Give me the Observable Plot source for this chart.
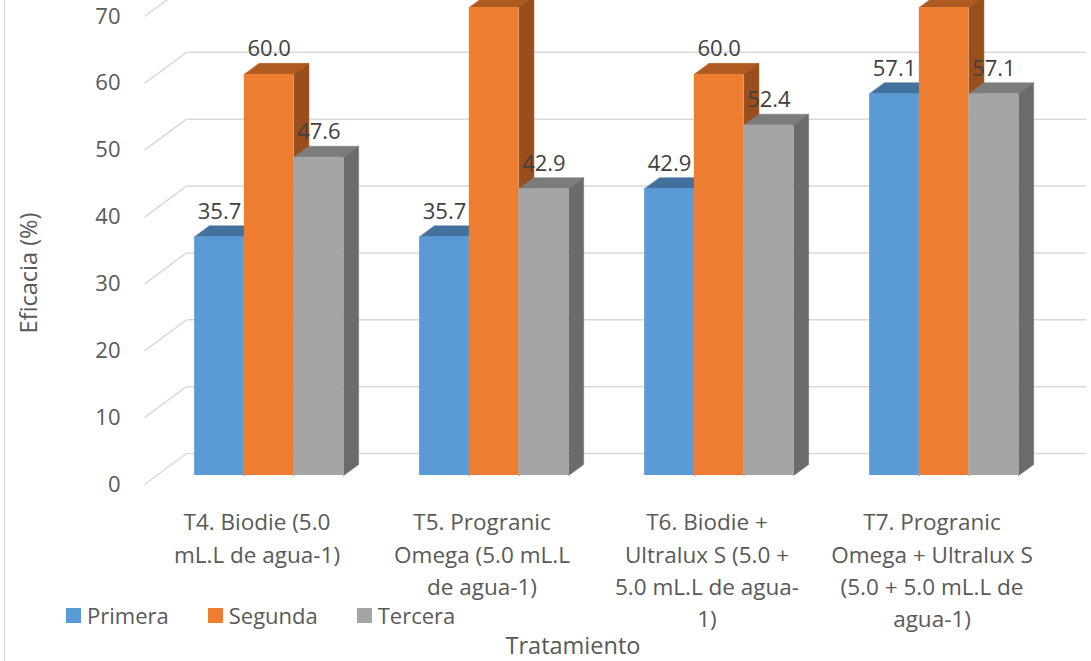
<!DOCTYPE html>
<html>
<head>
<meta charset="utf-8">
<script src="https://cdn.jsdelivr.net/npm/d3@7"></script>
<script src="https://cdn.jsdelivr.net/npm/@observablehq/plot@0.6"></script>
<style>
  html, body { margin: 0; padding: 0; background: #fff; }
  #wrap { position: relative; width: 1091px; height: 661px; overflow: hidden; background: #fff;
          font-family: "Open Sans", sans-serif; color: #595959; }
  #border { position: absolute; left: 4px; top: 0; bottom: 0; border-left: 1.5px solid #d9d9d9; }
  #chart { position: absolute; left: 0; top: 0; }
  #legend { position: absolute; left: 66px; top: 600px; }
  #legend > div { font-family: "Open Sans", sans-serif !important; font-size: 22px !important; color: #595959 !important;
                  margin: 0 !important; min-height: 0 !important; display: flex; align-items: center; }
  #legend span { margin-right: 39px !important; display: inline-flex; align-items: center; }
  #legend span > svg { margin-right: 6px !important; }
  .axis-title { position: absolute; font-size: 23.5px; line-height: 30px; white-space: nowrap; color: #595959; }
</style>
</head>
<body>
<div id="wrap">
  <div id="border"></div>
  <div id="chart"></div>
  <div id="legend"></div>
  <div class="axis-title" id="xtitle" style="left:473px; top:630px; width:200px; text-align:center;">Tratamiento</div>
  <div class="axis-title" id="ytitle" style="left:28px; top:273px; transform: translate(-50%, -50%) rotate(-90deg);">Eficacia (%)</div>
</div>
<script>
// Treatments (axis categories) and the three evaluation series
const categories = [
  "T4. Biodie (5.0\nmL.L de agua-1)",
  "T5. Progranic\nOmega (5.0 mL.L\nde agua-1)",
  "T6. Biodie +\nUltralux S (5.0 +\n5.0 mL.L de agua-\n1)",
  "T7. Progranic\nOmega + Ultralux S\n(5.0 + 5.0 mL.L de\nagua-1)"
];
const series = ["Primera", "Segunda", "Tercera"];
const primera = [35.7, 35.7, 42.9, 57.1];
const segunda = [60.0, 70.0, 60.0, 70.0];
const tercera = [47.6, 42.9, 52.4, 57.1];
const yTicks = [0, 10, 20, 30, 40, 50, 60, 70];
const yMax = 70;

const values = [primera, segunda, tercera];
const frontColors = ["#5B9BD5", "#ED7D31", "#A5A5A5"];
const topColors   = ["#41719C", "#AE5A21", "#7C7C7C"];
const sideColors  = ["#38618A", "#9A4E1C", "#6B6B6B"];

// Oblique projection of the depth axis, expressed in data units
const W = 1091, H = 661;
const mL = 144, mR = 47, mT = 16, mB = 177;
const pxX = (W - mL - mR) / categories.length;      // pixels per category
const pxY = (H - mT - mB) / yMax;                    // pixels per percent
const DX = 42 / pxX, DY = 31 / pxY;                  // full floor depth
const tf = 9 / 31, tb = 20 / 31;                     // bar front / back depth
const bw = 49.7 / pxX;                               // bar width

// Build bar geometry per series
const table = [];
values.forEach((vals, j) => vals.forEach((v, i) => {
  const x0 = i + 0.5 - 1.5 * bw + j * bw, x1 = x0 + bw;
  table.push({series: series[j], j, i, v, x0, x1, id: `${j}-${i}`});
}));

const topFaces = [], sideFaces = [];
for (const b of table) {
  const {x0, x1, v, id, j} = b;
  topFaces.push(
    {j, id, x: x0 + tf * DX, y: v + tf * DY},
    {j, id, x: x1 + tf * DX, y: v + tf * DY},
    {j, id, x: x1 + tb * DX, y: v + tb * DY},
    {j, id, x: x0 + tb * DX, y: v + tb * DY}
  );
  sideFaces.push(
    {j, id, x: x1 + tf * DX, y: tf * DY},
    {j, id, x: x1 + tb * DX, y: tb * DY},
    {j, id, x: x1 + tb * DX, y: v + tb * DY},
    {j, id, x: x1 + tf * DX, y: v + tf * DY}
  );
}

const gridColor = "#d9d9d9";
const marks = [
  // floor diagonals and back-wall gridlines
  Plot.link(yTicks, {x1: 0, y1: d => d, x2: DX, y2: d => d + DY, stroke: gridColor, strokeWidth: 1.5}),
  Plot.link(yTicks, {x1: DX, y1: d => d + DY, x2: categories.length + DX, y2: d => d + DY, stroke: gridColor, strokeWidth: 1.5}),
  // y tick labels
  Plot.text(yTicks, {x: 0, y: d => d, text: d => String(d), textAnchor: "end", dx: -24, fontSize: 22, fill: "#595959"}),
  // category labels
  Plot.text(categories, {x: (d, i) => i + 0.5, y: 0, text: d => d, lineAnchor: "top", dy: 23, lineHeight: 1.43, fontSize: 22.5, fill: "#595959"})
];

series.forEach((s, j) => {
  marks.push(
    Plot.line(topFaces.filter(d => d.j === j), {x: "x", y: "y", z: "id", curve: "linear-closed", fill: topColors[j], stroke: topColors[j], strokeWidth: 0.5}),
    Plot.line(sideFaces.filter(d => d.j === j), {x: "x", y: "y", z: "id", curve: "linear-closed", fill: sideColors[j], stroke: sideColors[j], strokeWidth: 0.5}),
    Plot.rect(table.filter(d => d.j === j), {
      x1: d => d.x0 + tf * DX, x2: d => d.x1 + tf * DX,
      y1: tf * DY, y2: d => d.v + tf * DY,
      fill: frontColors[j]
    })
  );
});

// value labels above each bar; bars reaching the axis maximum run past the
// top of the plot, so their labels are left out
marks.push(Plot.text(table.filter(d => d.v < yMax), {
  x: d => (d.x0 + d.x1) / 2 + tf * DX,
  y: d => d.v + tf * DY,
  text: d => d3.format(".1f")(d.v),
  dy: -25, fontSize: 22, fill: "#404040"
}));

const chart = Plot.plot({
  width: W, height: H,
  marginLeft: mL, marginRight: mR, marginTop: mT, marginBottom: mB,
  x: {domain: [0, categories.length], axis: null},
  y: {domain: [0, yMax], axis: null},
  style: {fontFamily: "'Open Sans', sans-serif", fontSize: "22px", background: "transparent", overflow: "hidden"},
  marks
});
document.getElementById("chart").appendChild(chart);

const legend = Plot.legend({
  color: {domain: series, range: frontColors},
  legend: "swatches",
  swatchSize: 15
});
document.getElementById("legend").appendChild(legend);
</script>
</body>
</html>
